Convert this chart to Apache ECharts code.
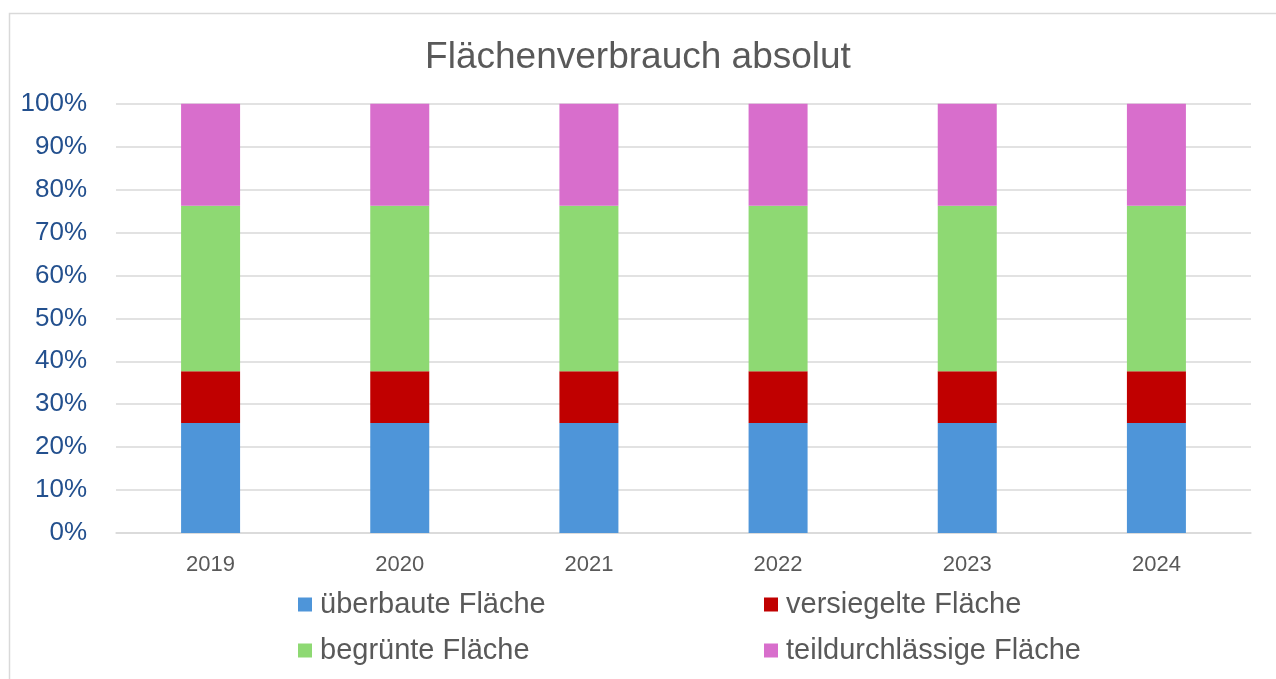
<!DOCTYPE html>
<html>
<head>
<meta charset="utf-8">
<script src="https://cdn.jsdelivr.net/npm/echarts@6/dist/echarts.min.js"></script>
<style>
html,body{margin:0;padding:0;background:#fff;}
#c{width:1276px;height:679px;}
</style>
</head>
<body>
<div id="c"></div>
<script>
const years = ['2019','2020','2021','2022','2023','2024'];
const seriesNames = ['überbaute Fläche','versiegelte Fläche','begrünte Fläche','teildurchlässige Fläche'];
const ueberbaut = [25.6, 25.6, 25.6, 25.6, 25.6, 25.6];
const versiegelt = [12.1, 12.1, 12.1, 12.1, 12.1, 12.1];
const begruent = [38.5, 38.5, 38.5, 38.5, 38.5, 38.5];
const teildurch = [23.8, 23.8, 23.8, 23.8, 23.8, 23.8];
const yTicks = [0,10,20,30,40,50,60,70,80,90,100];

const colors = ['#4E95D9','#C00000','#8ED973','#D86ECC'];
const values = [ueberbaut, versiegelt, begruent, teildurch];
const font = '"Liberation Sans", Arial, sans-serif';

const chart = echarts.init(document.getElementById('c'), null, {renderer:'canvas'});

function leg(name, left, top){
  return {
    data:[name], left:left, top:top, orient:'horizontal',
    itemWidth:14, itemHeight:14, icon:'rect', padding:0,
    textStyle:{color:'#595959', fontSize:29, fontFamily:font, padding:[0,0,0,3]}
  };
}

chart.setOption({
  animation:false,
  color:colors,
  graphic:[{
    type:'rect', left:7, top:11, z:-10,
    shape:{width:1300, height:700},
    style:{fill:'none', stroke:'#d9d9d9', lineWidth:1.5}
  }],
  title:{
    text:'Flächenverbrauch absolut', left:'center', top:34,
    textStyle:{color:'#595959', fontSize:37, fontWeight:'normal', fontFamily:font}
  },
  legend:[
    leg(seriesNames[0], 298, 590),
    leg(seriesNames[1], 764, 590),
    leg(seriesNames[2], 298, 636),
    leg(seriesNames[3], 764, 636)
  ],
  grid:{left:116, right:25, top:103.7, bottom:146, containLabel:false},
  xAxis:{
    type:'category', data:years,
    axisLine:{show:true, lineStyle:{color:'#d9d9d9', width:1.5}},
    axisTick:{show:false},
    axisLabel:{color:'#595959', fontSize:22, fontFamily:font, margin:21}
  },
  yAxis:{
    type:'value', min:yTicks[0], max:yTicks[yTicks.length-1], interval:10,
    axisLine:{show:false}, axisTick:{show:false},
    splitLine:{lineStyle:{color:'#d9d9d9', width:1.5}},
    axisLabel:{color:'#23508e', fontSize:26, fontFamily:font, margin:29,
      formatter:function(v){return v+'%';}}
  },
  series: seriesNames.map(function(n,i){
    return {
      name:n, type:'bar', stack:'total', data:values[i],
      barWidth:59,
      itemStyle:{color:colors[i]}
    };
  })
});
</script>
</body>
</html>
